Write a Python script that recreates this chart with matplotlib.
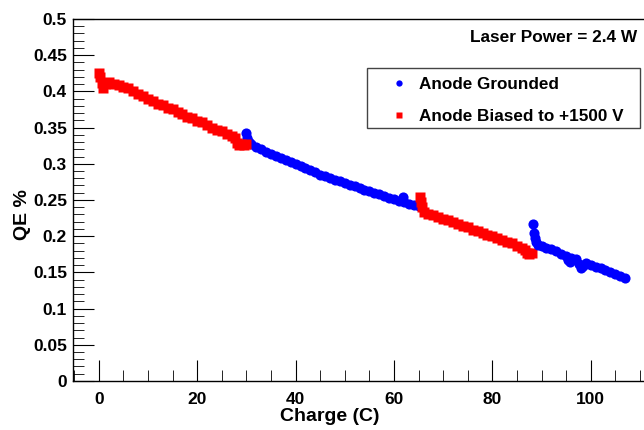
from matplotlib import pyplot as plt
from matplotlib.patches import Rectangle
from matplotlib.ticker import MultipleLocator

plt.rcParams['font.family'] = ['Liberation Sans', 'DejaVu Sans']
plt.rcParams['font.weight'] = 'bold'

# anode biased, first run (red squares)
red1_x = [0, 0.3, 0.6, 0.9, 1.3, 2, 3, 4, 5, 6, 7, 8, 9, 10, 11, 12, 13, 14, 15,
          16, 17, 18, 19, 20, 21, 22, 23, 24, 25, 26, 27, 27.6, 28, 28.5, 29,
          29.5, 30]
red1_y = [0.425, 0.420, 0.412, 0.405, 0.410, 0.413, 0.410, 0.409, 0.406, 0.404,
          0.400, 0.397, 0.393, 0.390, 0.387, 0.383, 0.381, 0.377, 0.375, 0.371,
          0.369, 0.365, 0.363, 0.359, 0.357, 0.353, 0.350, 0.347, 0.345, 0.341,
          0.339, 0.336, 0.329, 0.326, 0.327, 0.326, 0.327]

# anode grounded, first run (blue circles)
blue1_x = [29.9, 30.2, 30.5, 31, 32, 33, 34, 35, 36, 37, 38, 39, 40, 41, 42, 43,
           44, 45, 46, 47, 48, 49, 50, 51, 52, 53, 54, 55, 56, 57, 58, 59, 60,
           61, 61.9, 62, 63, 64, 65, 65.5]
blue1_y = [0.343, 0.336, 0.330, 0.327, 0.323, 0.320, 0.316, 0.313, 0.311, 0.308,
           0.305, 0.302, 0.300, 0.297, 0.294, 0.291, 0.288, 0.285, 0.283, 0.281,
           0.278, 0.276, 0.274, 0.271, 0.269, 0.267, 0.264, 0.262, 0.260, 0.258,
           0.256, 0.253, 0.251, 0.249, 0.254, 0.247, 0.245, 0.243, 0.241, 0.240]

# anode biased, second run
red2_x = [65.3, 65.5, 65.8, 66.2, 67, 68, 69, 70, 71, 72, 73, 74, 75, 76, 77,
          78, 79, 80, 81, 82, 83, 84, 85, 86, 86.6, 87, 87.5, 88]
red2_y = [0.254, 0.247, 0.240, 0.234, 0.231, 0.229, 0.227, 0.224, 0.222, 0.219,
          0.217, 0.214, 0.212, 0.209, 0.207, 0.205, 0.202, 0.200, 0.197, 0.195,
          0.192, 0.190, 0.187, 0.184, 0.181, 0.177, 0.176, 0.177]

# anode grounded, second run
blue2_x = [88.3, 88.4, 88.6, 88.9, 89.3, 90, 91, 92, 93, 94, 95, 95.4, 95.7, 96,
           97, 97.6, 98, 98.4, 99, 100, 101, 102, 103, 104, 105, 106, 107]
blue2_y = [0.217, 0.204, 0.198, 0.192, 0.188, 0.186, 0.184, 0.182, 0.179, 0.176,
           0.173, 0.167, 0.165, 0.170, 0.168, 0.162, 0.156, 0.159, 0.163, 0.160,
           0.158, 0.156, 0.153, 0.151, 0.148, 0.145, 0.142]

fig = plt.figure(figsize=(6.44, 4.30), dpi=100)
ax = fig.add_axes([0.1126, 0.114, 0.899, 0.842])

ms = 7.3
h1, = ax.plot(blue1_x, blue1_y, 'o', color='#0000ff', ms=ms, mec='none', label='Anode Grounded')
h2, = ax.plot(red1_x, red1_y, 's', color='#ff0000', ms=ms, mec='none', label='Anode Biased to +1500 V')
ax.plot(red2_x, red2_y, 's', color='#ff0000', ms=ms, mec='none')
ax.plot(blue2_x, blue2_y, 'o', color='#0000ff', ms=ms, mec='none')

ax.set_xlim(-5.35, 112.35)
ax.set_ylim(0, 0.5)
ax.xaxis.set_major_locator(MultipleLocator(20))
ax.xaxis.set_minor_locator(MultipleLocator(5))
ax.yaxis.set_major_locator(MultipleLocator(0.05))
ax.yaxis.set_minor_locator(MultipleLocator(0.01))
ax.yaxis.set_major_formatter(plt.FuncFormatter(lambda v, p: ('%.2f' % v).rstrip('0').rstrip('.')))

ax.tick_params(which='both', direction='in', top=False, right=False, labelsize=12.5)
ax.tick_params(axis='x', which='major', length=15, pad=8)
ax.tick_params(axis='x', which='minor', length=8)
ax.tick_params(axis='y', which='major', length=15, pad=4)
ax.tick_params(axis='y', which='minor', length=8)
for lbl in ax.get_xticklabels() + ax.get_yticklabels():
    lbl.set_fontweight('bold')

for s in ax.spines.values():
    s.set_linewidth(1.0)
ax.spines['right'].set_visible(False)

ax.set_xlabel('Charge (C)', fontsize=14, fontweight='bold')
ax.set_ylabel('QE %', fontsize=14, fontweight='bold')
ax.xaxis.set_label_coords(0.445, -0.075)
ax.yaxis.set_label_coords(-0.072, 0.46)

fig.text(637 / 644, 1 - 37 / 430, 'Laser Power = 2.4 W', ha='right', va='center',
         fontsize=12.4, fontweight='bold')

fig.add_artist(Rectangle((367 / 644, 1 - 128 / 430), 273 / 644, 60 / 430,
                         transform=fig.transFigure, facecolor='white',
                         edgecolor='#444444', lw=1.0, zorder=5))
leg = fig.legend(handles=[h1, h2], loc='center left',
                 bbox_to_anchor=(390 / 644, 1 - 100.5 / 430),
                 bbox_transform=fig.transFigure, frameon=False, borderpad=0,
                 borderaxespad=0, handlelength=1.0, handletextpad=0.7,
                 labelspacing=1.0, markerscale=0.62,
                 prop={'size': 12.3, 'weight': 'bold'})
leg.set_zorder(6)

plt.savefig('out.png', dpi=100)
